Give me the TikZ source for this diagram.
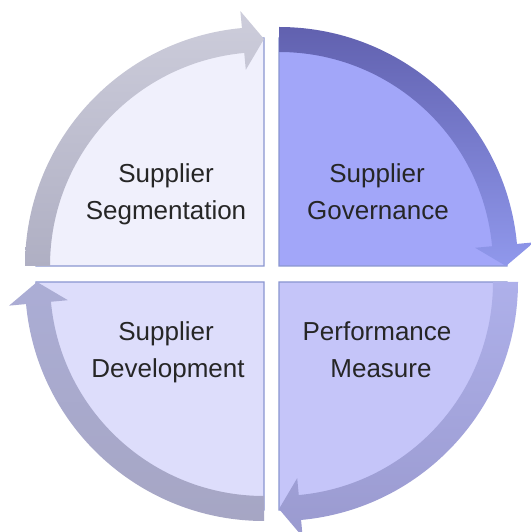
\documentclass[tikz,border=0pt]{standalone}
\usepackage{fontspec}
\setmainfont{Liberation Sans}
\definecolor{tlfill}{HTML}{F0F0FC}
\definecolor{trfill}{HTML}{A2A6F9}
\definecolor{brfill}{HTML}{C5C5F9}
\definecolor{blfill}{HTML}{DDDDFB}
\definecolor{qborder}{HTML}{8A96D0}
\definecolor{tlA}{HTML}{CDCDDB}
\definecolor{tlB}{HTML}{AFAFC3}
\definecolor{trA}{HTML}{6161AF}
\definecolor{trB}{HTML}{9098EC}
\definecolor{brA}{HTML}{AEB0EA}
\definecolor{brB}{HTML}{9A9ACF}
\definecolor{blA}{HTML}{ABADD5}
\definecolor{blB}{HTML}{A6A6C4}
\definecolor{txt}{HTML}{262626}
\begin{document}
\begin{tikzpicture}[x=1pt,y=1pt,
  quad/.style={draw=qborder, line width=1.1pt, line join=miter},
  lbl/.style={anchor=base, text=txt, font=\fontsize{26}{30}\selectfont, inner sep=0pt}]
\useasboundingbox (0,0) rectangle (530,532);
\fill[white] (0,0) rectangle (530,532);

% quadrant fills
\begin{scope}[shift={(264,266)}]
  \path[quad, fill=tlfill] (0,0) -- (180:228pt) arc[start angle=180,end angle=90,radius=228pt] -- cycle;
\end{scope}
\begin{scope}[shift={(279,266)}]
  \path[quad, fill=trfill] (0,0) -- (90:228pt) arc[start angle=90,end angle=0,radius=228pt] -- cycle;
\end{scope}
\begin{scope}[shift={(279,250)}]
  \path[quad, fill=brfill] (0,0) -- (0:228pt) arc[start angle=0,end angle=-90,radius=228pt] -- cycle;
\end{scope}
\begin{scope}[shift={(264,250)}]
  \path[quad, fill=blfill] (0,0) -- (-90:228pt) arc[start angle=-90,end angle=-180,radius=228pt] -- cycle;
\end{scope}

% arrows
\begin{scope}[shift={(264,266)}]
  \shade[top color=tlA, bottom color=tlB] (180:239pt) arc[start angle=180,end angle=95.3,radius=239pt]
    -- (95.3:256pt) -- (90:227pt) -- (95.3:197pt) -- (95.3:214pt)
    arc[start angle=95.3,end angle=180,radius=214pt] -- cycle;
\end{scope}
\begin{scope}[shift={(279,266)}]
  \shade[top color=trA, bottom color=trB] (90:239pt) arc[start angle=90,end angle=5.3,radius=239pt]
    -- (5.3:256pt) -- (0:227pt) -- (5.3:197pt) -- (5.3:214pt)
    arc[start angle=5.3,end angle=90,radius=214pt] -- cycle;
\end{scope}
\begin{scope}[shift={(279,250)}]
  \shade[top color=brA, bottom color=brB] (0:239pt) arc[start angle=0,end angle=-84.7,radius=239pt]
    -- (-84.7:256pt) -- (-90:227pt) -- (-84.7:197pt) -- (-84.7:214pt)
    arc[start angle=-84.7,end angle=0,radius=214pt] -- cycle;
\end{scope}
\begin{scope}[shift={(264,250)}]
  \shade[top color=blA, bottom color=blB] (-90:239pt) arc[start angle=-90,end angle=-174.7,radius=239pt]
    -- (-174.7:256pt) -- (-180:227pt) -- (-174.7:197pt) -- (-174.7:214pt)
    arc[start angle=-174.7,end angle=-90,radius=214pt] -- cycle;
\end{scope}

% labels
\node[lbl] (tl1) at (166,349) {Supplier};
\node[lbl] (tl2) at (166,312) {Segmentation};
\node[lbl] (tr1) at (377,349) {Supplier};
\node[lbl] (tr2) at (378,312) {Governance};
\node[lbl] (bl1) at (166,191) {Supplier};
\node[lbl] (bl2) at (168,154) {Development};
\node[lbl] (br1) at (377,191) {Performance};
\node[lbl] (br2) at (381,154) {Measure};
\end{tikzpicture}
\end{document}
